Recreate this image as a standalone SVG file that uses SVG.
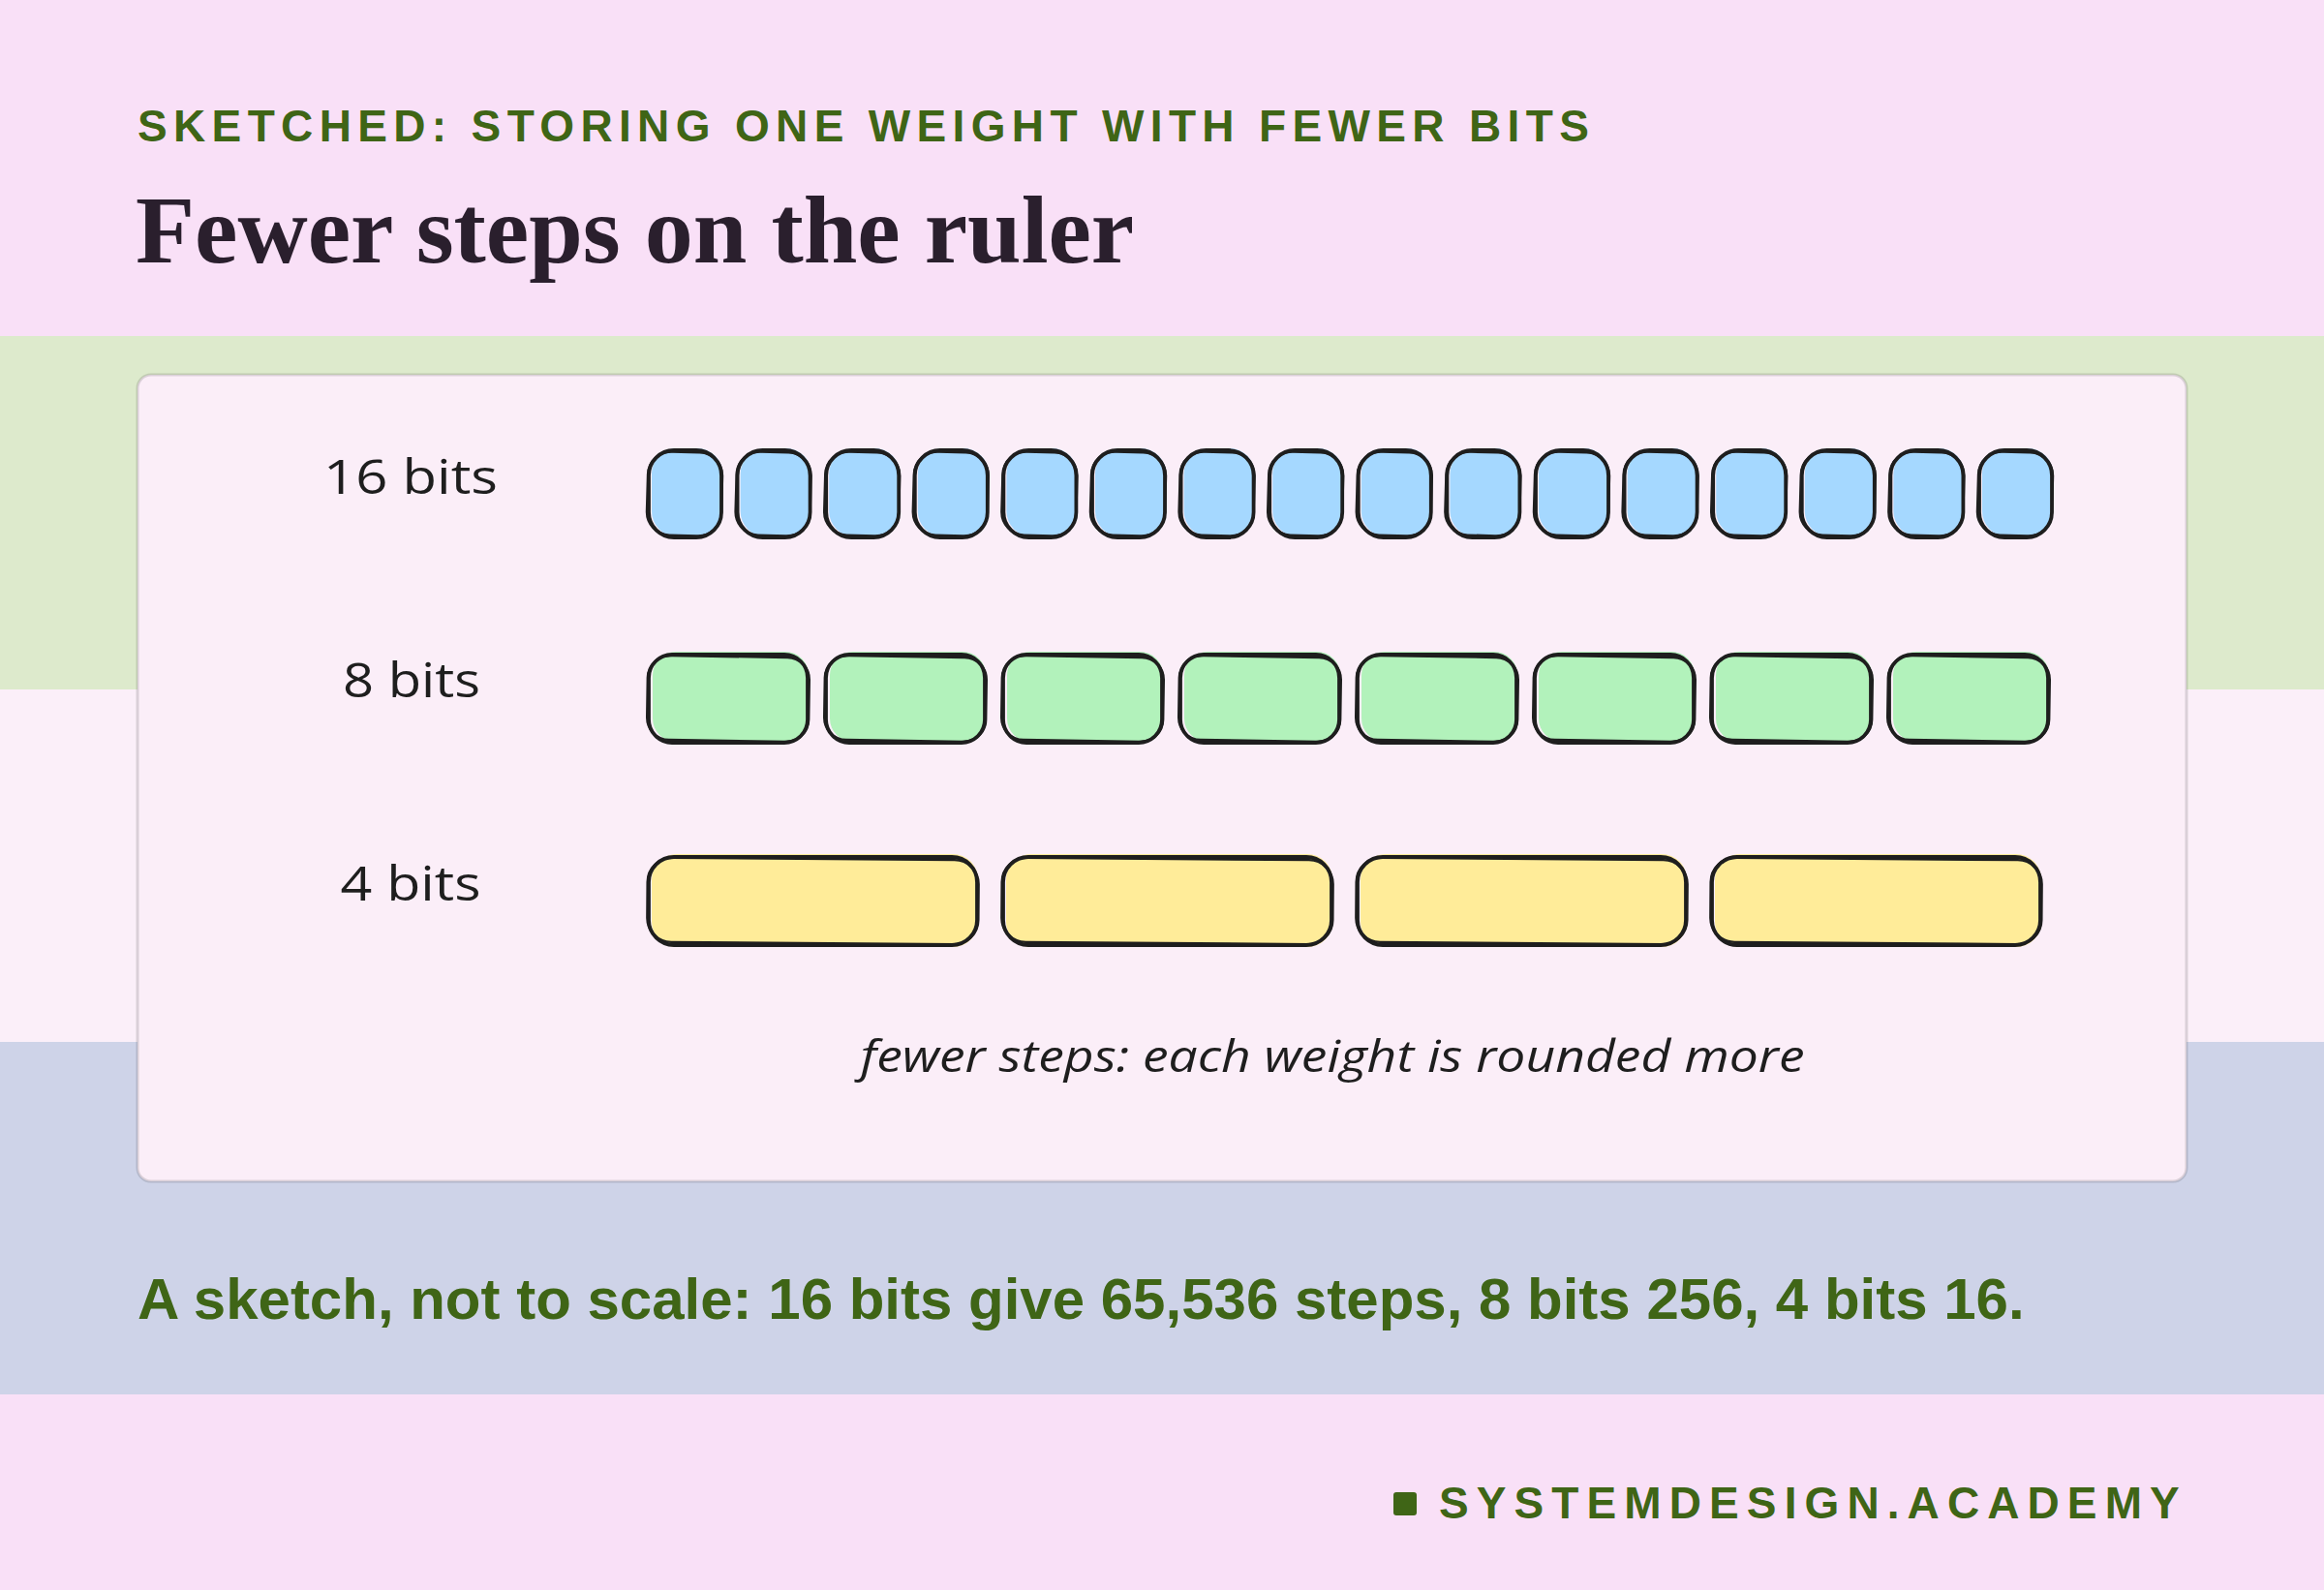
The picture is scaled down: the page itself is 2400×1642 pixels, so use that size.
<svg xmlns="http://www.w3.org/2000/svg" xmlns:xlink="http://www.w3.org/1999/xlink" width="2400" height="1642" viewBox="0 0 2400 1642">
<style>
.kicker{font-family:"Liberation Sans",Arial,sans-serif;font-weight:700;font-size:46px;letter-spacing:6.35px;fill:#3F6516}
.title{font-family:"Liberation Serif","Times New Roman",serif;font-weight:700;font-size:100px;fill:#2A1F2D}
.hand{font-family:"Open Sans","Noto Sans",sans-serif;fill:#1E1E1E}
.label{font-size:50px;text-anchor:middle}
.note{font-family:"Liberation Sans",Arial,sans-serif;font-weight:700;font-size:60px;fill:#3F6516}
.brand{font-family:"Liberation Sans",Arial,sans-serif;font-weight:700;font-size:46px;letter-spacing:8.1px;fill:#3F6516}
.s1{fill:none;stroke:#1E1E1E;stroke-width:3.8;stroke-linecap:round;stroke-linejoin:round}
.s2{fill:none;stroke:#1E1E1E;stroke-width:2.4;stroke-linecap:round;stroke-linejoin:round}
</style>
<defs>
<g id="blueBox">
<rect x="3" y="-2" width="73" height="91" rx="26" fill="#A5D8FF"/>
<rect x="0" y="0" width="75" height="90" rx="26" class="s1"/>
<rect x="-1.5" y="2" width="77" height="86" rx="24" class="s2" transform="rotate(1.6 37 45)"/>
</g>
<g id="greenBox">
<rect x="4" y="-3" width="161" height="93" rx="24" fill="#B2F2BB"/>
<rect x="0" y="0" width="164" height="91" rx="24" class="s1"/>
<rect x="-1.5" y="2" width="167" height="87" rx="23" class="s2" transform="rotate(0.9 82 45)"/>
</g>
<g id="yellowBox">
<rect x="3" y="-3" width="337" height="96" rx="26" fill="#FFEC99"/>
<rect x="0" y="0" width="339" height="91" rx="26" class="s1"/>
<rect x="-1.5" y="2" width="342" height="87" rx="25" class="s2" transform="rotate(0.45 170 45)"/>
</g>
</defs>

<g id="background">
<rect x="0" y="0" width="2400" height="347" fill="#F9E0F7"/>
<rect x="0" y="347" width="2400" height="365" fill="#DDEACC"/>
<rect x="0" y="712" width="2400" height="364" fill="#FBEFF9"/>
<rect x="0" y="1076" width="2400" height="364" fill="#CED3E8"/>
<rect x="0" y="1440" width="2400" height="202" fill="#F9E0F7"/>
</g>

<g id="header">
<text class="kicker" x="142" y="146">SKETCHED: STORING ONE WEIGHT WITH FEWER BITS</text>
<text class="title" x="140" y="271">Fewer steps on the ruler</text>
</g>

<g id="card">
<rect x="142" y="387" width="2116" height="833" rx="14" fill="#FBEEF8" stroke="#000" stroke-opacity="0.13" stroke-width="3"/>
</g>

<g id="labels">
<text id="label-16" class="hand label" x="424" y="510" textLength="180" lengthAdjust="spacingAndGlyphs">16 bits</text>
<text id="label-8" class="hand label" x="425" y="720" textLength="142" lengthAdjust="spacingAndGlyphs">8 bits</text>
<text id="label-4" class="hand label" x="424" y="930" textLength="145" lengthAdjust="spacingAndGlyphs">4 bits</text>
</g>

<g id="row16">
<g id="b16-1" transform="translate(670,465)"><use href="#blueBox"/></g>
<g id="b16-2" transform="translate(761.6,465)"><use href="#blueBox"/></g>
<g id="b16-3" transform="translate(853.2,465)"><use href="#blueBox"/></g>
<g id="b16-4" transform="translate(944.8,465)"><use href="#blueBox"/></g>
<g id="b16-5" transform="translate(1036.4,465)"><use href="#blueBox"/></g>
<g id="b16-6" transform="translate(1128,465)"><use href="#blueBox"/></g>
<g id="b16-7" transform="translate(1219.6,465)"><use href="#blueBox"/></g>
<g id="b16-8" transform="translate(1311.2,465)"><use href="#blueBox"/></g>
<g id="b16-9" transform="translate(1402.8,465)"><use href="#blueBox"/></g>
<g id="b16-10" transform="translate(1494.4,465)"><use href="#blueBox"/></g>
<g id="b16-11" transform="translate(1586,465)"><use href="#blueBox"/></g>
<g id="b16-12" transform="translate(1677.6,465)"><use href="#blueBox"/></g>
<g id="b16-13" transform="translate(1769.2,465)"><use href="#blueBox"/></g>
<g id="b16-14" transform="translate(1860.8,465)"><use href="#blueBox"/></g>
<g id="b16-15" transform="translate(1952.4,465)"><use href="#blueBox"/></g>
<g id="b16-16" transform="translate(2044,465)"><use href="#blueBox"/></g>
</g>

<g id="row8">
<g id="b8-1" transform="translate(670,676)"><use href="#greenBox"/></g>
<g id="b8-2" transform="translate(853,676)"><use href="#greenBox"/></g>
<g id="b8-3" transform="translate(1036,676)"><use href="#greenBox"/></g>
<g id="b8-4" transform="translate(1219,676)"><use href="#greenBox"/></g>
<g id="b8-5" transform="translate(1402,676)"><use href="#greenBox"/></g>
<g id="b8-6" transform="translate(1585,676)"><use href="#greenBox"/></g>
<g id="b8-7" transform="translate(1768,676)"><use href="#greenBox"/></g>
<g id="b8-8" transform="translate(1951,676)"><use href="#greenBox"/></g>
</g>

<g id="row4">
<g id="b4-1" transform="translate(670,885)"><use href="#yellowBox"/></g>
<g id="b4-2" transform="translate(1036,885)"><use href="#yellowBox"/></g>
<g id="b4-3" transform="translate(1402,885)"><use href="#yellowBox"/></g>
<g id="b4-4" transform="translate(1768,885)"><use href="#yellowBox"/></g>
</g>

<g id="caption">
<text class="hand" x="1376" y="1107" font-size="46" text-anchor="middle" font-style="italic" textLength="975" lengthAdjust="spacingAndGlyphs">fewer steps: each weight is rounded more</text>
</g>

<g id="connectors"></g>

<g id="footer">
<text class="note" x="142" y="1362">A sketch, not to scale: 16 bits give 65,536 steps, 8 bits 256, 4 bits 16.</text>
<rect x="1439" y="1541" width="24" height="24" rx="3" fill="#3F6516"/>
<text class="brand" x="1486" y="1568">SYSTEMDESIGN.ACADEMY</text>
</g>
</svg>
